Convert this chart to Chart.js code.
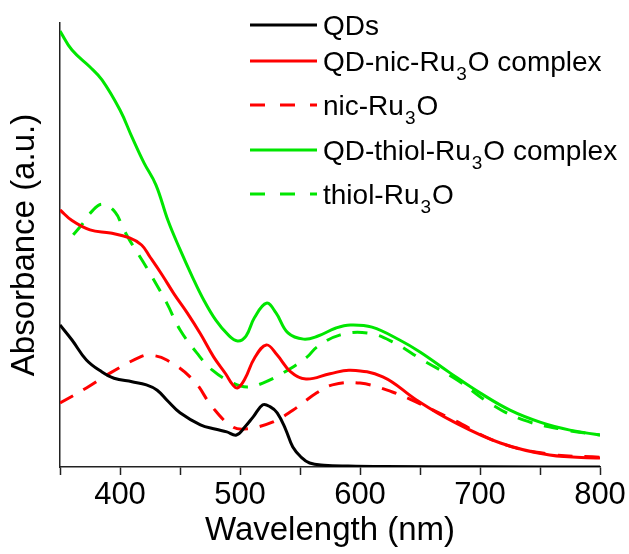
<!DOCTYPE html>
<html>
<head>
<meta charset="utf-8">
<title>Absorbance spectra</title>
<script src="https://cdn.jsdelivr.net/npm/chart.js@4"></script>
<style>
  html, body { margin: 0; padding: 0; background: #fff; }
  canvas { display: block; }
</style>
</head>
<body>
<canvas id="absChart" width="629" height="554"></canvas>
<script>
// Spectra (wavelength in nm, absorbance in arbitrary units)
const qdNm  = [350, 360, 372, 385, 395, 410, 422, 431, 440, 450, 467, 480, 489, 497, 504, 511, 519, 525, 531, 538, 544, 551, 558, 570, 590, 620, 700, 800];
const qdAbs = [0.320, 0.286, 0.241, 0.214, 0.200, 0.192, 0.185, 0.173, 0.148, 0.122, 0.095, 0.085, 0.079, 0.072, 0.090, 0.113, 0.140, 0.136, 0.122, 0.085, 0.045, 0.022, 0.009, 0.004, 0.002, 0.001, 0.0005, 0];

const nicCxNm  = [350, 360, 375, 392, 408, 418, 425, 435, 445, 456, 467, 478, 488, 494, 498, 504, 512, 522, 531, 542, 555, 575, 592, 619, 647, 675, 717, 758, 800];
const nicCxAbs = [0.579, 0.555, 0.534, 0.527, 0.516, 0.500, 0.473, 0.433, 0.390, 0.347, 0.300, 0.248, 0.210, 0.185, 0.178, 0.198, 0.245, 0.275, 0.252, 0.215, 0.198, 0.210, 0.218, 0.203, 0.151, 0.106, 0.054, 0.027, 0.020];

const nicNm  = [350, 372, 392, 417, 425, 439, 461, 477, 494, 506, 527, 544, 564, 577, 600, 627, 647, 675, 717, 758, 800];
const nicAbs = [0.144, 0.178, 0.212, 0.248, 0.252, 0.241, 0.196, 0.135, 0.090, 0.086, 0.101, 0.128, 0.167, 0.185, 0.189, 0.169, 0.146, 0.110, 0.054, 0.029, 0.022];

const thiolCxNm  = [350, 360, 375, 385, 400, 410, 420, 430, 440, 450, 460, 470, 480, 490, 498, 505, 512, 522, 530, 540, 553, 565, 580, 592, 610, 633, 650, 675, 700, 725, 750, 775, 800];
const thiolCxAbs = [0.982, 0.939, 0.901, 0.872, 0.804, 0.743, 0.685, 0.635, 0.555, 0.490, 0.430, 0.375, 0.330, 0.298, 0.284, 0.295, 0.336, 0.369, 0.347, 0.302, 0.288, 0.295, 0.313, 0.320, 0.315, 0.286, 0.259, 0.212, 0.167, 0.128, 0.101, 0.083, 0.072];

const thiolNm  = [361, 368, 376, 385, 396, 402, 408, 422, 439, 450, 464, 477, 494, 506, 519, 536, 556, 564, 583, 606, 627, 652, 681, 708, 736, 772, 800];
const thiolAbs = [0.523, 0.545, 0.574, 0.592, 0.574, 0.541, 0.511, 0.450, 0.369, 0.309, 0.257, 0.218, 0.189, 0.180, 0.189, 0.212, 0.248, 0.270, 0.297, 0.302, 0.282, 0.241, 0.196, 0.144, 0.106, 0.083, 0.072];

const seriesNames = ['QDs', 'QD-nic-Ru\u2083O complex', 'nic-Ru\u2083O', 'QD-thiol-Ru\u2083O complex', 'thiol-Ru\u2083O'];
const xTicks = [400, 500, 600, 700, 800];

const toPoints = (xs, ys) => xs.map((x, i) => ({ x: x, y: ys[i] }));

const FONT = '"Liberation Sans", Arial, sans-serif';
Chart.defaults.font.family = FONT;
Chart.defaults.color = '#000';

// legend drawn inside the plot, top right, with real subscripts
const legendRows = [25, 61, 105, 150, 194];

function drawLabel(ctx, text, x, y) {
    const parts = text.split('\u2083');
    parts.forEach((part, k) => {
        ctx.font = '28px ' + FONT;
        ctx.fillText(part, x, y);
        x += ctx.measureText(part).width;
        if (k < parts.length - 1) {
            ctx.font = '19px ' + FONT;
            ctx.fillText('3', x + 1, y + 9);
            x += ctx.measureText('3').width + 2;
        }
    });
}

const insetLegend = {
    id: 'insetLegend',
    afterDatasetsDraw(chart) {
        const ctx = chart.ctx;
        ctx.save();
        ctx.fillStyle = '#000';
        ctx.textBaseline = 'alphabetic';
        chart.data.datasets.forEach((ds, i) => {
            const y = legendRows[i];
            ctx.beginPath();
            ctx.strokeStyle = ds.borderColor;
            ctx.lineWidth = 3;
            ctx.setLineDash(ds.borderDash ? [15, 15] : []);
            ctx.moveTo(250, y);
            ctx.lineTo(317, y);
            ctx.stroke();
            ctx.setLineDash([]);
            drawLabel(ctx, ds.label, 323, y + 10);
        });
        ctx.restore();
    }
};

const ctx = document.getElementById('absChart').getContext('2d');

new Chart(ctx, {
    type: 'line',
    data: {
        datasets: [
            { label: seriesNames[0], data: toPoints(qdNm, qdAbs), borderColor: '#000000' },
            { label: seriesNames[1], data: toPoints(nicCxNm, nicCxAbs), borderColor: '#ff0000' },
            { label: seriesNames[2], data: toPoints(nicNm, nicAbs), borderColor: '#ff0000', borderDash: [15, 12] },
            { label: seriesNames[3], data: toPoints(thiolCxNm, thiolCxAbs), borderColor: '#00e600' },
            { label: seriesNames[4], data: toPoints(thiolNm, thiolAbs), borderColor: '#00e600', borderDash: [15, 12] }
        ]
    },
    options: {
        responsive: false,
        animation: false,
        layout: { padding: { top: 23, right: 29, left: 0, bottom: 0 } },
        plugins: {
            legend: { display: false },
            tooltip: { enabled: false }
        },
        elements: {
            point: { radius: 0 },
            line: { borderWidth: 3, fill: false, tension: 0.4 }
        },
        scales: {
            x: {
                type: 'linear',
                min: 350,
                max: 800,
                afterFit: (scale) => { scale.height = 87; },
                ticks: {
                    stepSize: 50,
                    autoSkip: false,
                    maxRotation: 0,
                    padding: 2,
                    color: '#000',
                    font: { size: 31 },
                    callback: (v) => xTicks.includes(v) ? String(v) : ''
                },
                grid: { drawOnChartArea: false, tickLength: 8, tickWidth: 1.5, tickColor: '#222' },
                border: { color: '#222', width: 1.5 },
                title: {
                    display: true,
                    text: 'Wavelength (nm)',
                    color: '#000',
                    font: { size: 33 },
                    padding: { top: 0, bottom: 3 }
                }
            },
            y: {
                min: 0,
                max: 1,
                afterFit: (scale) => { scale.width = 60; },
                ticks: { display: false },
                grid: { display: false },
                border: { display: true, color: '#222', width: 1.5 },
                title: {
                    display: true,
                    text: 'Absorbance (a.u.)',
                    color: '#000',
                    font: { size: 33 },
                    padding: { top: 5, bottom: 0 }
                }
            }
        }
    },
    plugins: [insetLegend]
});
</script>
</body>
</html>
